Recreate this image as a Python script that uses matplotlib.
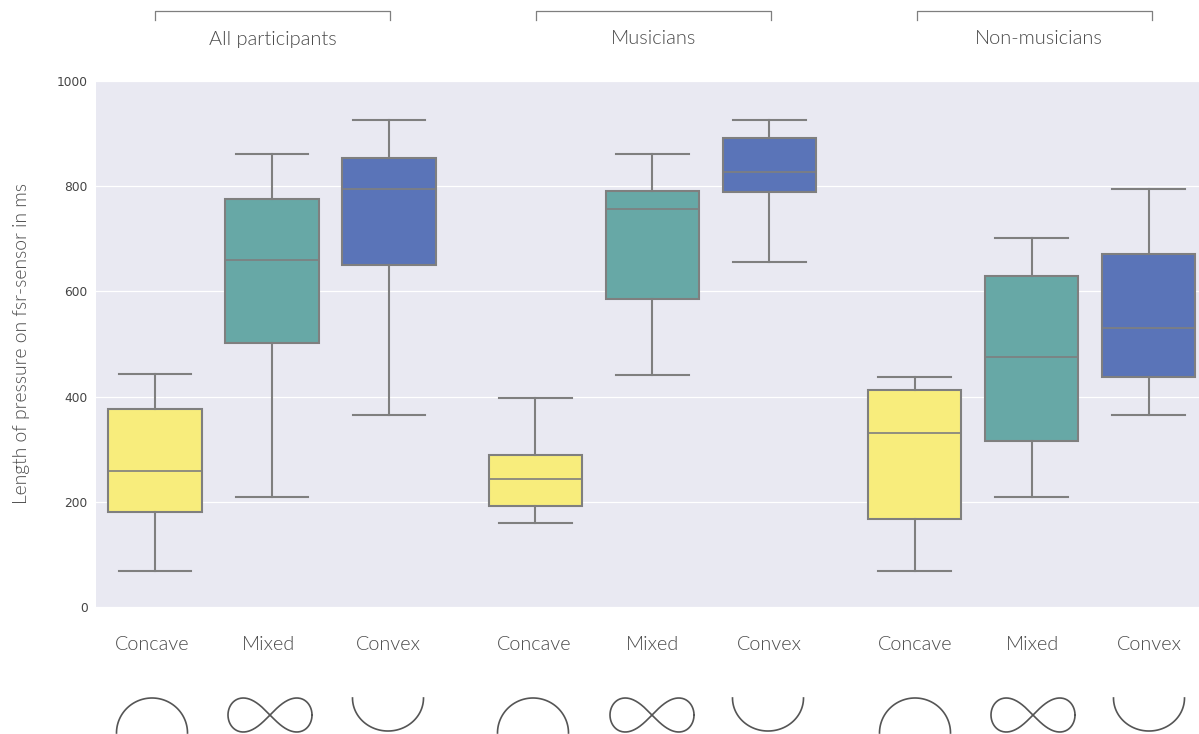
#!/usr/bin/env python3

import numpy as np
import matplotlib
matplotlib.use('Agg')
import matplotlib.pyplot as plt

# whisker low, q1, median, q3, whisker high for each box
concave_all = [68, 181, 259, 376, 443]
mixed_all = [209, 502, 660, 776, 861]
convex_all = [365, 650, 795, 853, 926]
concave_mus = [160, 192, 243, 289, 397]
mixed_mus = [441, 586, 757, 791, 861]
convex_mus = [656, 789, 827, 892, 926]
concave_non = [68, 167, 331, 413, 437]
mixed_non = [209, 316, 475, 629, 702]
convex_non = [365, 437, 530, 671, 795]

groups = ['All participants', 'Musicians', 'Non-musicians']
shapes = ['Concave', 'Mixed', 'Convex']
yticks = [0, 200, 400, 600, 800, 1000]

W, H = 1199, 734
GREY = '#7f7f7f'
TEXT = '#4a4a4a'
colors = {'Concave': '#F8ED7C', 'Mixed': '#67A8A6', 'Convex': '#5A74B8'}

plt.rcParams['font.family'] = ['Lato', 'DejaVu Sans']


def to_stats(row):
    return dict(whislo=row[0], q1=row[1], med=row[2], q3=row[3], whishi=row[4], fliers=[])


fig = plt.figure(figsize=(W / 100, H / 100), dpi=100)
ax = fig.add_axes([96 / W, 1 - 607 / H, (W - 96) / W, 526 / H])
ax.set_facecolor('#E9E9F2')

rows = [concave_all, mixed_all, convex_all,
        concave_mus, mixed_mus, convex_mus,
        concave_non, mixed_non, convex_non]
positions = [0, 1, 2, 3.25, 4.25, 5.25, 6.49, 7.49, 8.49]
line = dict(color=GREY, linewidth=1.5)
med = dict(color=GREY, linewidth=1.2)
bp = ax.bxp([to_stats(r) for r in rows], positions=positions, widths=0.8, patch_artist=True,
            showfliers=False, boxprops=line, medianprops=med, whiskerprops=line,
            capprops=line, capwidths=0.62, manage_ticks=False, zorder=3)
for i, box in enumerate(bp['boxes']):
    box.set_facecolor(colors[shapes[i % 3]])

ax.set_xlim(-0.504, 8.92)
ax.set_ylim(0, 1000)
ax.set_xticks([])
ax.set_yticks(yticks)
ax.tick_params(axis='y', length=0, pad=6, labelsize=8.8, labelcolor='#444444')
for lab in ax.get_yticklabels():
    lab.set_family('DejaVu Sans')
ax.grid(axis='y', color='white', linewidth=0.9, zorder=0)
ax.set_axisbelow(True)
for s in ax.spines.values():
    s.set_visible(False)

# overlay in pixel coordinates for brackets, labels and the little shape icons
ov = fig.add_axes([0, 0, 1, 1])
ov.set_xlim(0, W)
ov.set_ylim(H, 0)
ov.axis('off')
ov.patch.set_alpha(0)

ov.text(22, 344, 'Length of pressure on fsr-sensor in ms', rotation=90, ha='center', va='center',
        fontsize=13.9, color=TEXT, fontweight=300)

bracket_left = [155, 536, 917]
group_x = [273, 654, 1039]
for left, cx, name in zip(bracket_left, group_x, groups):
    ov.plot([left, left, left + 235, left + 235], [20, 10.5, 10.5, 20], color=GREY, lw=0.9)
    ov.text(cx, 39, name, ha='center', va='center', fontsize=14.4, color=TEXT, fontweight=300)

label_x = [152.5, 269, 388, 534, 652, 769, 915, 1032, 1149]
icon_x = [152, 270, 388, 533, 652, 768, 915, 1033, 1149]
t = np.linspace(0, 2 * np.pi, 300)
arc = np.linspace(0, np.pi, 120)
for i, (lx, ix) in enumerate(zip(label_x, icon_x)):
    kind = shapes[i % 3]
    ov.text(lx, 644, kind, ha='center', va='center', fontsize=14.3, color=TEXT, fontweight=300)
    if kind == 'Concave':
        ov.plot(ix + 35.5 * np.cos(arc), 733 - 35 * np.sin(arc), color='#555555', lw=1.2)
    elif kind == 'Convex':
        ov.plot(ix + 35.5 * np.cos(arc), 698 + 33 * np.sin(arc), color='#555555', lw=1.2)
    else:
        d = 1 + 0.6 * np.sin(t) ** 2
        ov.plot(ix + 42 * np.cos(t) / d, 715 + 43 * np.sin(t) * np.cos(t) / d, color='#555555', lw=1.2)

fig.savefig('out.png', dpi=100)
